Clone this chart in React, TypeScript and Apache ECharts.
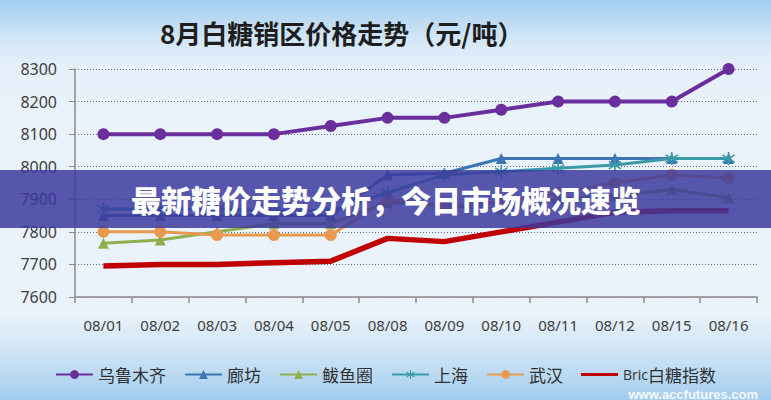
import React, { useEffect, useRef } from "react";
import * as echarts from "echarts";

const categories = ["08/01", "08/02", "08/03", "08/04", "08/05", "08/08", "08/09", "08/10", "08/11", "08/12", "08/15", "08/16"];
const urumqi = [8100, 8100, 8100, 8100, 8125, 8150, 8150, 8175, 8200, 8200, 8200, 8300];
const langfang = [7850, 7850, 7850, 7850, 7850, 7975, 7980, 8025, 8025, 8025, 8025, 8025];
const bayuquan = [7765, 7775, 7800, 7825, 7825, 7890, 7880, 7870, 7900, 7910, 7930, 7905];
const shanghai = [7870, 7870, 7870, 7865, 7865, 7920, 7975, 7985, 7995, 8005, 8025, 8025];
const wuhan = [7800, 7800, 7790, 7790, 7790, 7900, 7880, 7890, 7920, 7950, 7975, 7965];
const bric = [7695, 7700, 7700, 7705, 7710, 7780, 7770, 7800, 7830, 7860, 7865, 7865];
const yTicks = { min: 7600, max: 8300, interval: 100 };

const titleText = "8月白糖销区价格走势（元/吨）";
const bannerText = "最新糖价走势分析，今日市场概况速览";
const watermark = "www.accfutures.com";

const STAR =
  "path://M4.4 0 L5.6 0 L5.6 10 L4.4 10 Z M0.4 2.6 L1.0 1.6 L9.6 7.4 L9.0 8.4 Z M9.0 1.6 L9.6 2.6 L1.0 8.4 L0.4 7.4 Z";
const LINE_ICON = "path://M0 0 L40 0 L40 3.5 L0 3.5 Z";

export default function App() {
  const ref = useRef<HTMLDivElement>(null);
  useEffect(() => {
    if (!ref.current) return;
    const chart = echarts.init(ref.current, null, { renderer: "svg" });
    const font = "'Noto Sans', 'Noto Sans CJK SC', sans-serif";
    const mk = (name: string, data: number[], color: string, symbol: string, size: number, width: number, z = 2) => ({
      name,
      type: "line",
      data,
      symbol,
      symbolSize: size,
      showSymbol: symbol !== "none",
      z,
      lineStyle: { color, width },
      itemStyle: { color },
    });
    chart.setOption({
      animation: false,
      backgroundColor: "transparent",
      textStyle: { fontFamily: font },
      grid: { left: 75, right: 14, top: 69, bottom: 103 },
      xAxis: {
        type: "category",
        data: categories,
        boundaryGap: true,
        axisLine: { lineStyle: { color: "#8c8c8c", width: 1.5 } },
        axisTick: { show: true, length: 6, lineStyle: { color: "#8c8c8c", width: 1.5 } },
        axisLabel: { color: "#404040", fontSize: 15, margin: 20, fontFamily: font },
      },
      yAxis: {
        type: "value",
        min: yTicks.min,
        max: yTicks.max,
        interval: yTicks.interval,
        axisLine: { show: true, lineStyle: { color: "#8c8c8c", width: 1.5 } },
        axisTick: { show: true, length: 6, lineStyle: { color: "#8c8c8c" } },
        axisLabel: {
          color: "#404040",
          fontSize: 16,
          margin: 18,
          fontFamily: font,
          formatter: (v: number) => String(v),
        },
        splitLine: { show: true, lineStyle: { color: "#6a6a80", type: [1, 2], width: 1 } },
      },
      legend: {
        left: 50,
        top: 361,
        itemWidth: 37,
        itemHeight: 11,
        itemGap: 18,
        textStyle: {
          fontSize: 17,
          color: "#303030",
          fontFamily: "'Noto Sans CJK SC', sans-serif",
          rich: {
            lat: { fontSize: 14, color: "#303030", fontFamily: "'Open Sans', sans-serif" },
            cjk: { fontSize: 17, color: "#303030", fontFamily: "'Noto Sans CJK SC', sans-serif" },
          },
        },
        formatter: (name: string) => (name === "Bric白糖指数" ? "{lat|Bric}{cjk|白糖指数}" : name),
        data: [
          "乌鲁木齐",
          "廊坊",
          "鲅鱼圈",
          "上海",
          "武汉",
          { name: "Bric白糖指数", icon: LINE_ICON, itemStyle: { color: "#c00000" } },
        ],
      },
      series: [
        mk("乌鲁木齐", urumqi, "#6a2f9c", "circle", 12, 4, 6),
        mk("鲅鱼圈", bayuquan, "#8fb04c", "triangle", 11, 3, 3),
        mk("武汉", wuhan, "#e79a4f", "circle", 12, 3, 4),
        mk("廊坊", langfang, "#3d74b3", "triangle", 11, 3, 4),
        mk("上海", shanghai, "#3a9aa8", STAR, 13, 3, 5),
        mk("Bric白糖指数", bric, "#c00000", "none", 0, 5.5, 5),
      ],
      graphic: [
        {
          type: "text",
          left: 160,
          top: 19,
          z: 10,
          style: {
            text: titleText,
            fontSize: 26,
            fontWeight: "bold",
            fill: "#1e1e1e",
            fontFamily: "'Noto Sans CJK SC', sans-serif",
          },
        },
        {
          type: "rect",
          z: 50,
          shape: { x: 0, y: 170, width: 771, height: 58 },
          style: { fill: "rgba(60,58,157,0.85)" },
        },
        {
          type: "text",
          z: 51,
          x: 386,
          y: 199,
          style: {
            text: bannerText,
            fontSize: 30,
            fontWeight: 900,
            fill: "#ffffff",
            align: "center",
            verticalAlign: "middle",
            fontFamily: "'Noto Sans CJK SC', sans-serif",
          },
        },
        {
          type: "text",
          z: 10,
          x: 758,
          y: 394,
          style: {
            text: watermark,
            fontSize: 13,
            fontWeight: "bold",
            fill: "rgba(255,255,255,0.9)",
            align: "right",
            verticalAlign: "middle",
            fontFamily: "'Liberation Sans', Arial, sans-serif",
          },
        },
      ],
    });
    return () => chart.dispose();
  }, []);
  return (
    <div
      style={{
        position: "absolute",
        left: 0,
        top: 0,
        width: 771,
        height: 400,
        background:
          "linear-gradient(to bottom, #a2cdef 0%, #d4e7f7 10%, #e6f0fa 17%, #eaf3fb 30%, #eaf3fb 78%, #d2e6f6 87%, #a4cdee 100%)",
      }}
    >
      <div ref={ref} style={{ width: 771, height: 400 }} />
    </div>
  );
}
